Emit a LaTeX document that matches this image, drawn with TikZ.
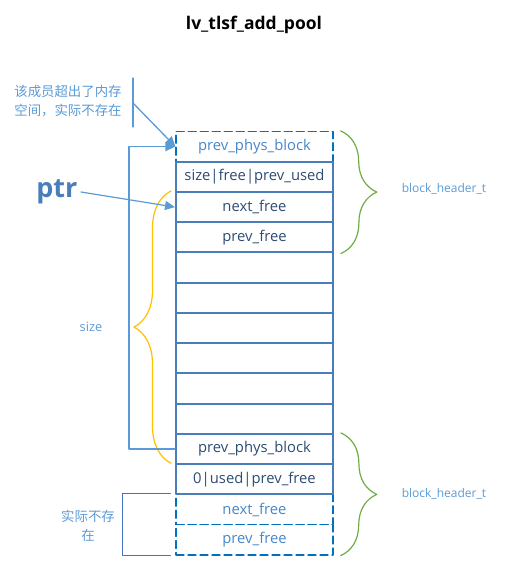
\documentclass[tikz,border=0pt]{standalone}
\usepackage{fontspec}
\setmainfont{Open Sans}
\newfontfamily\cjk{Noto Sans CJK SC}
\usetikzlibrary{
	arrows.meta,
	decorations.pathreplacing,
	calc
}
\definecolor{PCell}{RGB}{74,126,187}
\definecolor{PText}{RGB}{45,75,115}
\definecolor{PGhost}{RGB}{0,112,192}
\definecolor{PGhostText}{RGB}{70,135,200}
\definecolor{PLabel}{RGB}{91,155,213}
\definecolor{PGreen}{RGB}{112,173,71}
\definecolor{PYellow}{RGB}{255,192,0}
\definecolor{PBracket}{RGB}{68,114,196}
\tikzset{
	cell/.style={draw=PCell, line width=2pt, minimum width=157pt, minimum height=30.25pt,
		inner sep=0pt, text=PText, font=\fontsize{14.8}{17}\selectfont},
	ghost/.style={draw=PGhost, line width=1.2pt, dash pattern=on 8pt off 4pt,
		minimum width=157pt, minimum height=30.25pt, inner sep=0pt, text=PGhostText,
		font=\fontsize{14.8}{17}\selectfont},
	note/.style={text=PLabel, font=\fontsize{12}{14}\selectfont},
	cnote/.style={text=PLabel, font=\cjk\fontsize{13.4}{19}\selectfont, align=center},
	hdrbrace/.style={draw=PGreen, line width=1.2pt, decorate, decoration={brace, amplitude=36pt}},
	link/.style={draw=PLabel, line width=1.5pt, -{Triangle[length=10pt,width=9pt]}}
}
\begin{document}
\begin{tikzpicture}[x=1pt, y=-1pt, line cap=round, line join=round]
		\useasboundingbox (0,0) rectangle (515,578);
		
		% -- Title ----------------------------------------------------
		\node[font=\bfseries\fontsize{17.5}{20}\selectfont] (title) at (254,25) {lv\_tlsf\_add\_pool};
		
		% -- Pool column (rows 30.25 high, centre x = 254.5) ---------
		\def\Cx{254.5}
		\def\Ry{146.6}
		
		\node[ghost] (r0)  at (\Cx,\Ry)          {prev\_phys\_block};
		\node[ghost] (r12) at (\Cx,{\Ry+12*30.25}) {next\_free};
		\node[ghost] (r13) at (\Cx,{\Ry+13*30.25}) {prev\_free};
		
		\node[cell] (r1) at (\Cx,{\Ry+30.25})   {size|free|prev\_used};
		\node[cell] (r2) at (\Cx,{\Ry+2*30.25}) {next\_free};
		\node[cell] (r3) at (\Cx,{\Ry+3*30.25}) {prev\_free};
		\foreach \ii in {4,...,9}{%
			\node[cell] (r\ii) at (\Cx,{\Ry+\ii*30.25}) {};
		}
		\node[cell] (r10) at (\Cx,{\Ry+10*30.25}) {prev\_phys\_block};
		\node[cell] (r11) at (\Cx,{\Ry+11*30.25}) {0|used|prev\_free};
		
		% -- Right: header braces ------------------------------------
		\draw[hdrbrace] ($(r0.north east)+(7,0)$) -- ($(r3.south east)+(7,0)$);
		\draw[hdrbrace] ($(r10.north east)+(7,0)$) -- ($(r13.south east)+(7,0)$);
		\node[note] (hdr1) at (444,189) {block\_header\_t};
		\node[note] (hdr2) at (444,494) {block\_header\_t};
		
		% -- Left: size brace and back link --------------------------
		\draw[draw=PYellow, line width=1.2pt, decorate, decoration={brace, amplitude=37pt}]
		($(r11.north west)+(-4,0)$) -- ($(r2.north west)+(-4,0)$);
		\node[note, font=\fontsize{12.8}{15}\selectfont] (size) at (91,327) {size};
		
		\draw[link] (r10.west) -- ++(-46,0) |- (r0.west);
		
		% ptr
		\node[anchor=east, text=PCell, font=\bfseries\fontsize{27}{30}\selectfont] (ptr) at (81,192) {ptr};
		\draw[link, line width=1.2pt] (ptr.east) -- (r2.west);
		
		% -- Callout: member lies outside the memory -----------------
		\coordinate (ctop) at (133,78);
		\coordinate (cbot) at (133,127);
		\coordinate (cmid) at (133,103);
		\draw[draw=PLabel, line width=1.3pt] (ctop) -- (cbot);
		\draw[link, line width=1.3pt] (cmid) -- (r0.west);
		\node[cnote, align=left] (outside) at (68,101) {该成员超出了内存\\空间，实际不存在};
		
		% -- Bottom left: not really present -------------------------
		\draw[draw=PBracket, line width=1.2pt] ($(r12.north west)+(-5,0)$) -| ($(r13.south west)+(-53,0)$) -- ($(r13.south west)+(-5,0)$);
		\node[cnote] (absent) at (88,526) {实际不存\\在};
		
	\end{tikzpicture}
\end{document}
